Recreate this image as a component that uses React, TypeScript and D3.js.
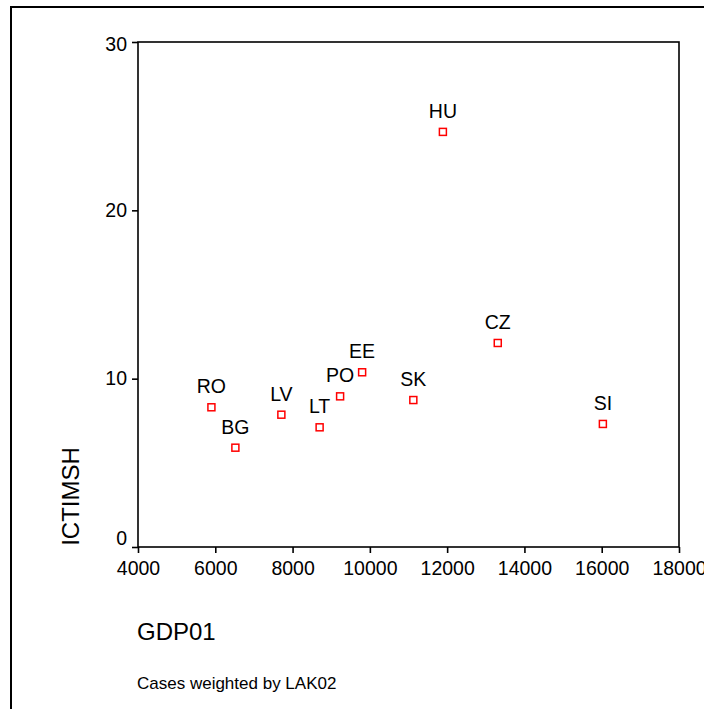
import React, { useEffect, useRef } from "react";
import * as d3 from "d3";

// Country codes and their values
const countries = ["RO", "BG", "LV", "LT", "PO", "EE", "SK", "HU", "CZ", "SI"];
const gdp01 = [5900, 6520, 7710, 8700, 9230, 9800, 11125, 11890, 13310, 16030];
const ictimsh = [8.3, 5.9, 7.86, 7.11, 8.95, 10.38, 8.73, 24.66, 12.12, 7.31];

const xTicks = [4000, 6000, 8000, 10000, 12000, 14000, 16000, 18000];
const yTicks = [0, 10, 20, 30];

const FONT = "'Liberation Sans', Arial, Helvetica, sans-serif";

export default function App() {
  const svgRef = useRef<SVGSVGElement>(null);

  useEffect(() => {
    const svg = d3.select(svgRef.current);
    svg.selectAll("*").remove();

    const width = 704;
    const height = 709;
    const margin = { top: 42, right: 25, bottom: 162, left: 138 };

    svg.attr("width", width).attr("height", height);

    // outer frame, runs off the right and bottom edges
    svg.append("rect")
      .attr("x", 11)
      .attr("y", 7)
      .attr("width", 720)
      .attr("height", 720)
      .attr("fill", "white")
      .attr("stroke", "#000")
      .attr("stroke-width", 2);

    const x = d3.scaleLinear()
      .domain([4000, 18000])
      .range([margin.left, width - margin.right]);

    const y = d3.scaleLinear()
      .domain([0, 30])
      .range([height - margin.bottom, margin.top]);

    // plot box
    svg.append("rect")
      .attr("x", x(4000))
      .attr("y", y(30))
      .attr("width", x(18000) - x(4000))
      .attr("height", y(0) - y(30))
      .attr("fill", "none")
      .attr("stroke", "#000")
      .attr("stroke-width", 1.6);

    const xAxis = svg.append("g")
      .attr("transform", `translate(0,${y(0)})`)
      .call(d3.axisBottom(x).tickValues(xTicks).tickFormat(d3.format("d")).tickSize(6).tickPadding(8));

    const yAxis = svg.append("g")
      .attr("transform", `translate(${x(4000)},0)`)
      .call(d3.axisLeft(y).tickValues(yTicks).tickFormat(d3.format("d")).tickSize(6).tickPadding(5));

    [xAxis, yAxis].forEach(a => {
      a.select(".domain").remove();
      a.selectAll(".tick line").attr("stroke", "#000").attr("stroke-width", 1.6);
      a.selectAll("text")
        .attr("fill", "#000")
        .style("font-family", FONT)
        .style("font-size", "19.5px");
    });

    // the zero label sits a little above its tick
    yAxis.selectAll(".tick text")
      .filter(d => d === 0)
      .attr("dy", "-0.12em");
    yAxis.selectAll(".tick text")
      .filter(d => d === 30)
      .attr("dy", "0.45em");

    // points
    const data = countries.map((c, i) => ({ c, gx: gdp01[i], iv: ictimsh[i] }));
    const s = 7;

    svg.selectAll(".pt")
      .data(data)
      .enter()
      .append("rect")
      .attr("class", "pt")
      .attr("x", d => x(d.gx) - s / 2)
      .attr("y", d => y(d.iv) - s / 2)
      .attr("width", s)
      .attr("height", s)
      .attr("fill", "white")
      .attr("stroke", "#ff0000")
      .attr("stroke-width", 1.5);

    svg.selectAll(".lbl")
      .data(data)
      .enter()
      .append("text")
      .attr("class", "lbl")
      .attr("x", d => x(d.gx))
      .attr("y", d => y(d.iv) - 14)
      .attr("text-anchor", "middle")
      .style("font-family", FONT)
      .style("font-size", "19.5px")
      .text(d => d.c);

    // axis titles
    svg.append("text")
      .attr("x", 137)
      .attr("y", 640)
      .style("font-family", FONT)
      .style("font-size", "24px")
      .text("GDP01");

    svg.append("text")
      .attr("transform", `translate(79,${(446 + 547) / 2}) rotate(-90)`)
      .attr("text-anchor", "middle")
      .style("font-family", FONT)
      .style("font-size", "24px")
      .text("ICTIMSH");

    svg.append("text")
      .attr("x", 137)
      .attr("y", 689)
      .style("font-family", FONT)
      .style("font-size", "17px")
      .text("Cases weighted by LAK02");
  }, []);

  return (
    <svg ref={svgRef} style={{ position: "absolute", left: 0, top: 0, display: "block" }} />
  );
}
